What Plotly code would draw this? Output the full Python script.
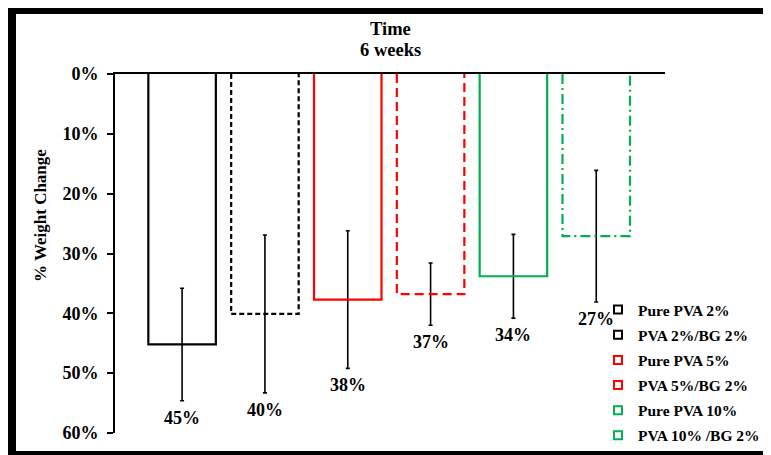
import plotly.graph_objects as go

# ---------------- data ----------------
categories = ["Pure PVA 2%", "PVA 2%/BG 2%", "Pure PVA 5%",
              "PVA 5%/BG 2%", "Pure PVA 10%", "PVA 10% /BG 2%"]
weight_change = [45.2, 40.1, 37.7, 36.8, 33.8, 27.1]
error = [9.4, 13.2, 11.5, 5.2, 7.0, 11.0]
value_labels = ["45%", "40%", "38%", "37%", "34%", "27%"]
y_tick_vals = [0, 10, 20, 30, 40, 50, 60]
y_tick_text = ["0%", "10%", "20%", "30%", "40%", "50%", "60%"]
title_lines = ["Time", "6 weeks"]
y_title = "% Weight Change"

# ---------------- styles ----------------
colors = ["#000000", "#000000", "#ff0000", "#ff0000", "#00b050", "#00b050"]
dashes = ["solid", "5px,3px", "solid", "9px,5px", "solid", "10px,4px,2px,4px"]
BAR_W = 0.815
FONT = "Liberation Serif"

# page geometry (browser page is offset by the 8px body margin)
PAGE_W, PAGE_H, OFF = 771, 455, 8
PL, PR, PT, PB = 115, 665, 74, 433          # plot area in page pixels
W, H = PAGE_W - OFF, PAGE_H - OFF
ML, MR, MT, MB = PL - OFF, PAGE_W - PR, PT - OFF, PAGE_H - PB
PW, PH = PR - PL, PB - PT


def px_x(px):
    return (px - PL) / PW


def px_y(py):
    return (PB - py) / PH


xpos = list(range(len(categories)))
x_range = [-0.81, 5.83]

fig = go.Figure()

# bars (transparent fill) carrying the error bars
fig.add_trace(go.Bar(
    x=xpos, y=weight_change, width=BAR_W,
    marker=dict(color="rgba(0,0,0,0)", line=dict(width=0)),
    error_y=dict(type="data", array=error, color="black", thickness=1.6, width=2),
    showlegend=False, hoverinfo="skip",
))

# bar outlines with dash styles
for i, (v, c, d) in enumerate(zip(weight_change, colors, dashes)):
    x0, x1 = xpos[i] - BAR_W / 2, xpos[i] + BAR_W / 2
    fig.add_trace(go.Scatter(
        x=[x0, x0, x1, x1], y=[0, v, v, 0], mode="lines",
        line=dict(color=c, width=2.2, dash=d),
        showlegend=False, hoverinfo="skip", cliponaxis=False,
    ))

# legend entries
for i, (name, c) in enumerate(zip(categories, colors)):
    fig.add_trace(go.Scatter(
        x=[None], y=[None], mode="markers", name=name, legendgroup=str(i),
        marker=dict(symbol="square-open", size=8, color=c, line=dict(width=2, color=c)),
    ))

# value labels below error bars
for i, (v, e, t) in enumerate(zip(weight_change, error, value_labels)):
    fig.add_annotation(x=xpos[i], y=v + e, text=t, showarrow=False,
                       yanchor="top", yshift=-5,
                       font=dict(family=FONT, size=18, color="black", weight="bold"))

# title lines
fig.add_annotation(x=0.5, xref="paper", y=px_y(29), yref="paper", text=title_lines[0],
                   showarrow=False, yanchor="middle",
                   font=dict(family=FONT, size=18.5, color="black", weight="bold"))
fig.add_annotation(x=0.5, xref="paper", y=px_y(50), yref="paper", text=title_lines[1],
                   showarrow=False, yanchor="middle",
                   font=dict(family=FONT, size=18.5, color="black", weight="bold"))
# y axis title
fig.add_annotation(x=px_x(40), xref="paper", y=px_y(216), yref="paper", text=y_title,
                   showarrow=False, textangle=-90, xanchor="center", yanchor="middle",
                   font=dict(family=FONT, size=17, color="black", weight="bold"))

# black frame (top, left, bottom bands) in page pixels
frame = [(8, 6, PAGE_W, 14), (8, 6, 16, PAGE_H), (8, 451, PAGE_W, PAGE_H)]
for (xa, ya, xb, yb) in frame:
    fig.add_shape(type="rect", xref="paper", yref="paper",
                  x0=px_x(xa), x1=px_x(xb), y0=px_y(yb), y1=px_y(ya),
                  fillcolor="black", line=dict(width=0), layer="above")

fig.update_layout(
    width=W, height=H,
    margin=dict(l=ML, r=MR, t=MT, b=MB, pad=0, autoexpand=False),
    paper_bgcolor="white", plot_bgcolor="white",
    font=dict(family=FONT, color="black"),
    barmode="overlay",
    xaxis=dict(range=x_range, side="top", showgrid=False, zeroline=False,
               showline=True, linecolor="black", linewidth=2,
               showticklabels=False, ticks="inside", ticklen=6, tickwidth=2,
               tickcolor="black", tickvals=[x_range[1]]),
    yaxis=dict(range=[60, 0], showgrid=False, zeroline=False,
               showline=True, linecolor="black", linewidth=2,
               ticks="outside", ticklen=6, tickwidth=2, tickcolor="black",
               ticklabelstandoff=5,
               tickvals=y_tick_vals, ticktext=y_tick_text,
               tickfont=dict(family=FONT, size=18, color="black", weight="bold")),
    legend=dict(x=px_x(598), y=px_y(293), xanchor="left", yanchor="top",
                bgcolor="rgba(0,0,0,0)", tracegroupgap=2,
                font=dict(family=FONT, size=15.5, color="black", weight="bold")),
    showlegend=True,
)

fig.write_html("out.html")
